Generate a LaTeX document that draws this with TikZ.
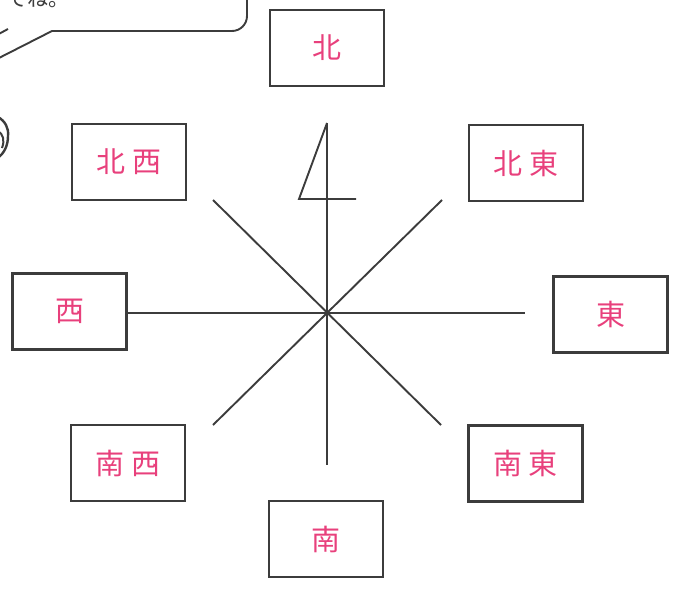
\documentclass[tikz,border=0pt]{standalone}
\usepackage{fontspec}
\newfontfamily\jpfont{Noto Sans CJK JP}
\definecolor{houi}{RGB}{232,64,124}
\definecolor{sumi}{RGB}{60,60,60}
\tikzset{
  houibox/.style={draw=sumi, line width=2.4pt, minimum width=114pt, minimum height=76pt,
    inner sep=0pt, text=houi, font=\jpfont\fontsize{29}{29}\selectfont},
  senline/.style={draw=sumi, line width=1.9pt},
}
\newcommand{\aida}{\hspace{7pt}}
\begin{document}
\begin{tikzpicture}[x=1pt,y=-1pt]
      \useasboundingbox (0,0) rectangle (674,594);
      \clip (0,0) rectangle (674,594);

      % speech bubble, cut off at the top left
      \node[font=\jpfont\fontsize{21}{21}\selectfont, text=sumi] (serifu) at (38,-1) {てね。};
      \draw[senline] (247,-10) -- (247,16) arc[start angle=0, end angle=-90, radius=15pt]
        -- (52,31) -- (-5,60);
      \draw[senline] (-5,36) -- (8,29);
      % hand, only its edge shows
      \draw[senline, line width=2.4pt] (-2,117) .. controls (5,121) and (9,128) .. (8,136)
        .. controls (8,146) and (4,153) .. (-2,158);
      \draw[senline, line width=2pt] (-2,131) .. controls (3,134) and (5,140) .. (2,148);

      % direction boxes
      \node[houibox] (kita)     at (327,48)    {北};
      \node[houibox] (hokusei)  at (129,162)   {北\aida 西};
      \node[houibox] (hokutou)  at (526,163)   {北\aida 東};
      \node[houibox] (nishi)    at (69.5,311.5) {西};
      \node[houibox] (higashi)  at (610.5,314.5) {東};
      \node[houibox] (nansei)   at (128,463)   {南\aida 西};
      \node[houibox] (nantou)   at (525.5,463.5) {南\aida 東};
      \node[houibox] (minami)   at (326,539)   {南};

      % compass lines
      \coordinate (naka) at (327,313);
      \coordinate (ue)   at (327,123);
      \coordinate (shita) at (327,465);
      \coordinate (migi) at (525,313);
      \coordinate (nw) at (213,200);
      \coordinate (ne) at (442,200);
      \coordinate (sw) at (213,425);
      \coordinate (se) at (441,425);
      \draw[senline] (nishi.east |- naka) -- (migi);
      \draw[senline] (ue) -- (shita);
      \draw[senline] (nw) -- (se);
      \draw[senline] (ne) -- (sw);

      % north flag
      \draw[senline, line join=miter] (ue) -- (299,199) -- (356,199);
    \end{tikzpicture}
\end{document}
